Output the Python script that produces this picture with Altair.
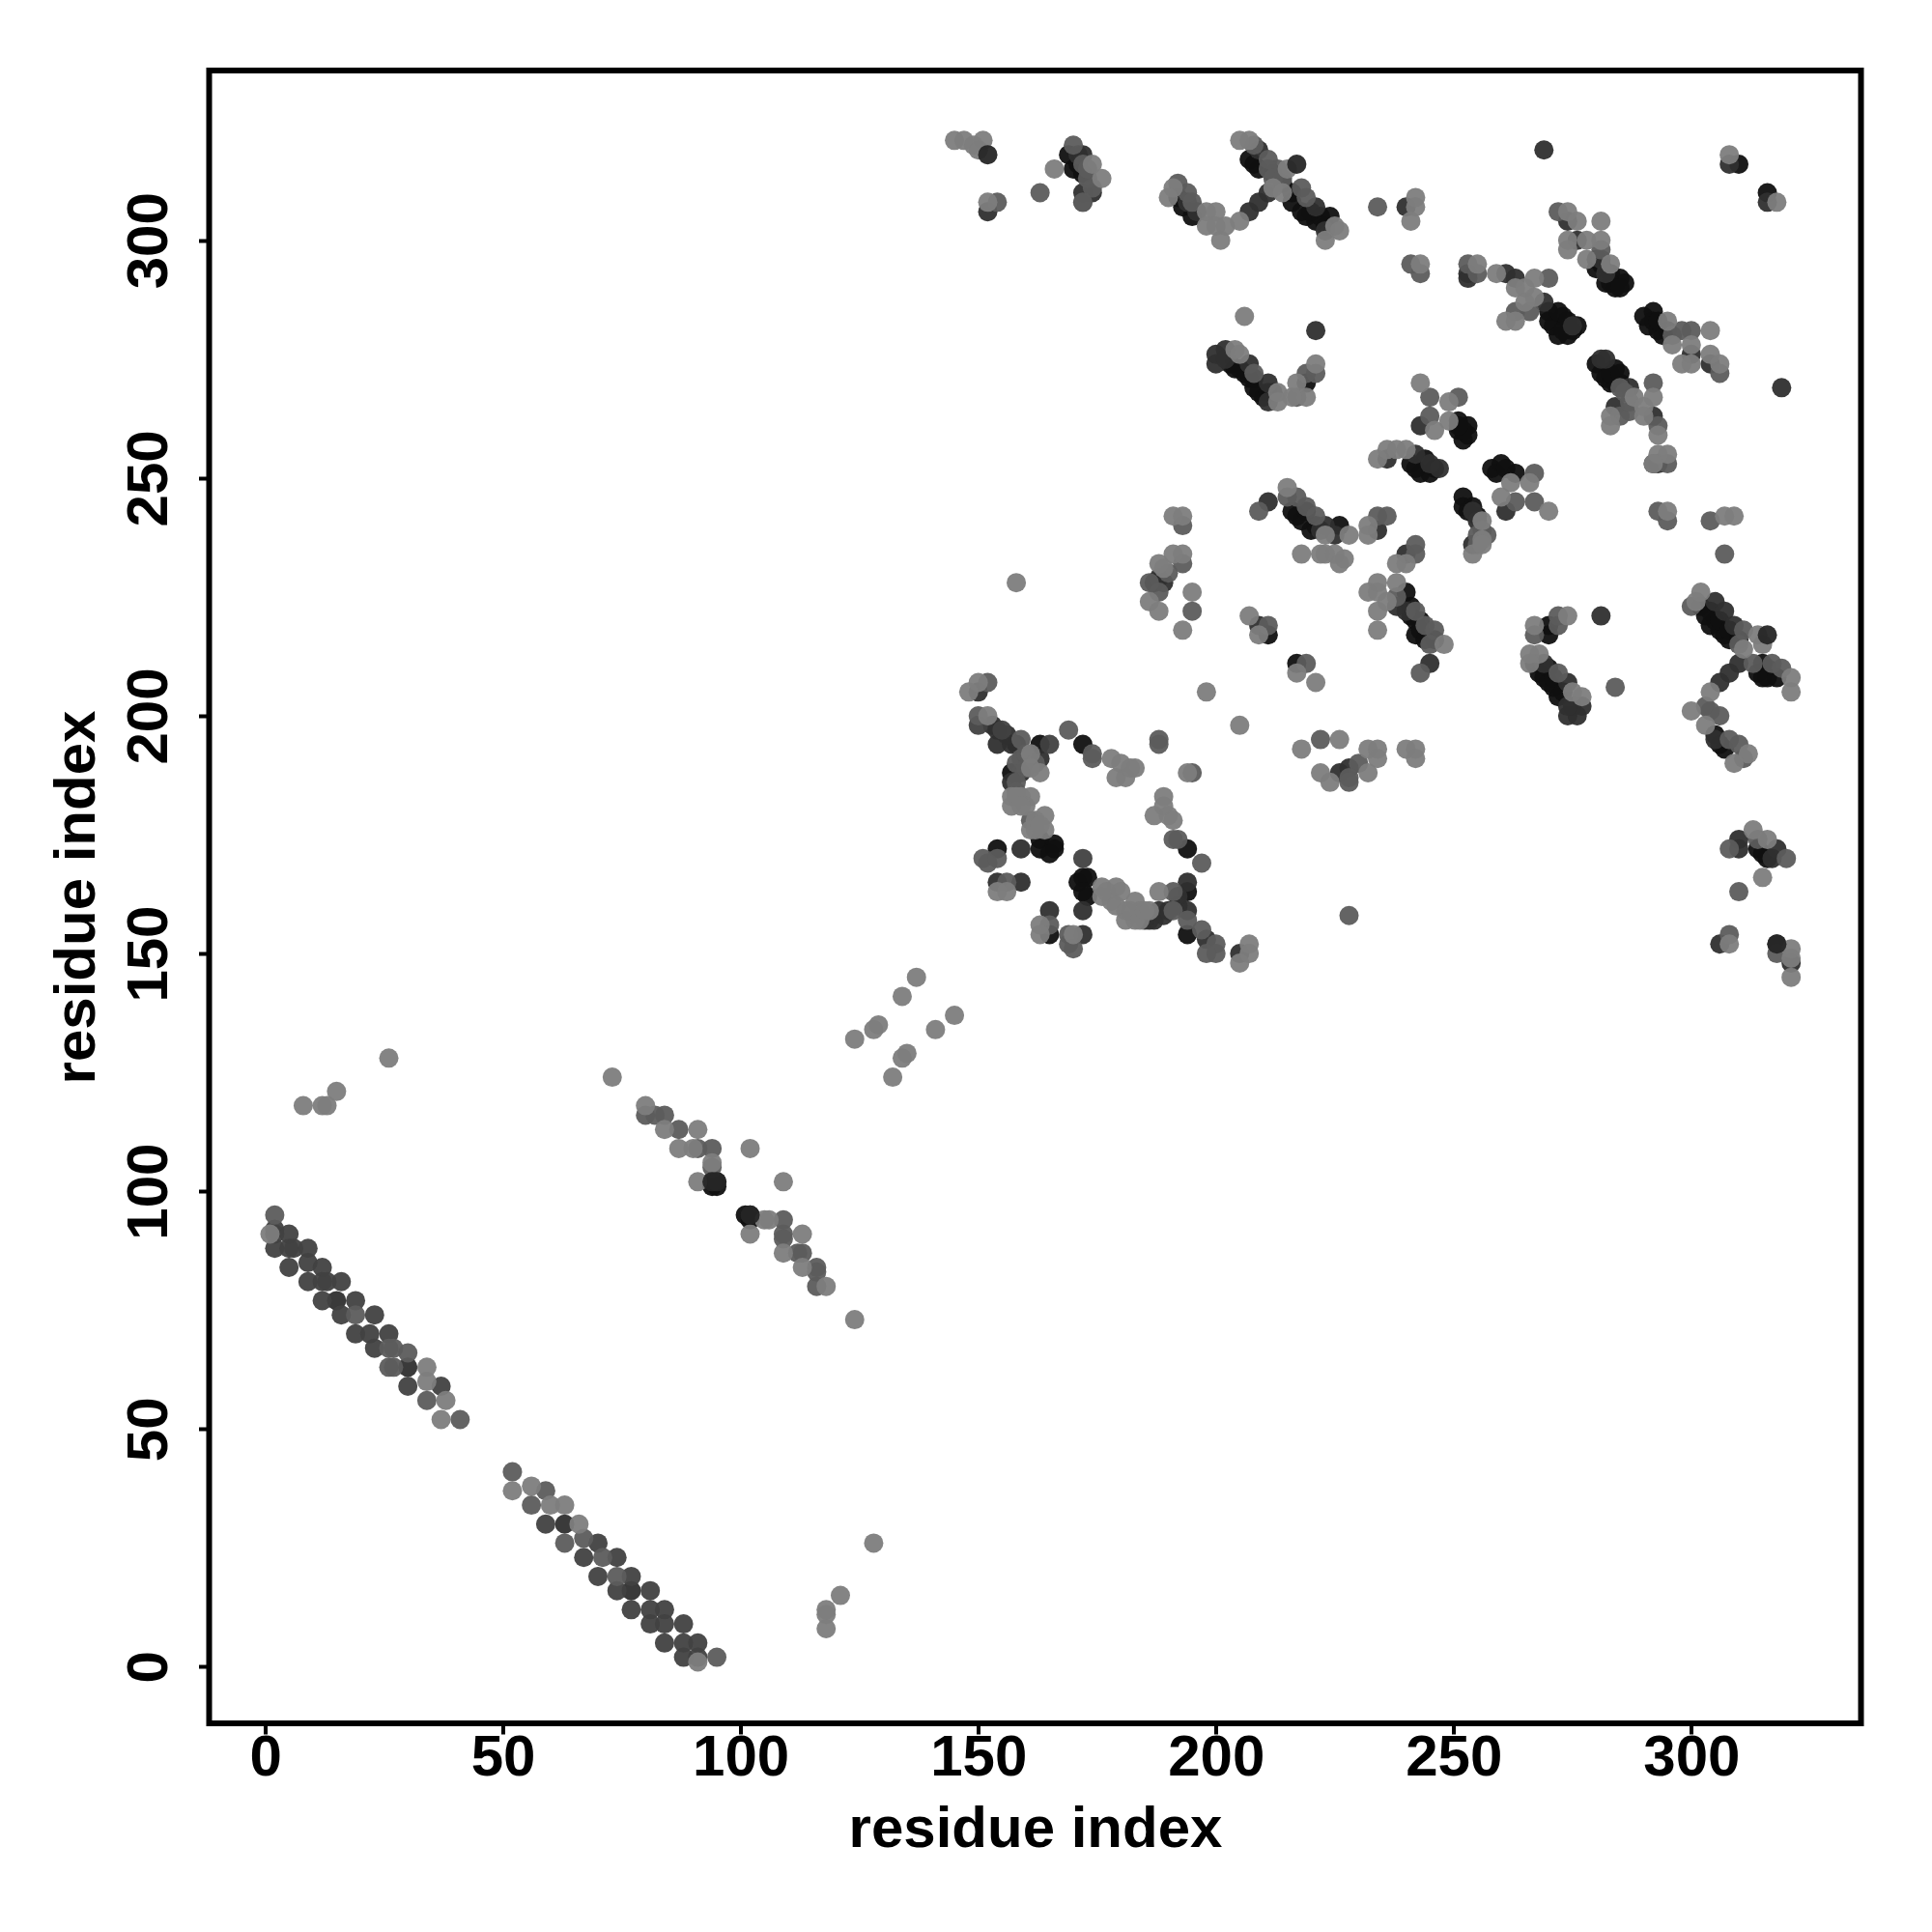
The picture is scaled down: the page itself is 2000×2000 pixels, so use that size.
import altair as alt
import pandas as pd

TICKS = [0, 50, 100, 150, 200, 250, 300]

VDARK = [(94,102),(95,102),(94,101),(95,101),(101,95),(102,95),(102,94),
(154,172),(163,174),(163,172),(166,173),(166,172),(165,171),(172,194),(163,194),(172,166),(171,165),(173,166),(172,163),(173,162),(194,163),(194,154),(194,172),(165,154),(158,194),(157,188),
(170,315),(169,318),(171,316),(172,314),(192,309),(193,307),(195,305),(208,316),(209,315),(207,317),(216,308),(218,306),(224,305),(221,304),(223,303),(219,305),
(204,273),(206,272),(208,269),(210,267),(207,271),(209,268),(219,270),(211,268),
(280,294),(282,291),(285,292),(284,290),(283,293),(286,291),(270,285),(273,284),(270,283),(272,280),(274,280),(271,282),(275,281),
(251,262),(253,261),(253,259),(252,258),(251,260),(252,260),(244,254),(241,253),(243,251),(246,252),(245,251),(242,252),
(258,252),(260,253),(263,251),(259,251),(261,252),(252,246),(252,244),(254,244),(253,243),(255,242),
(216,243),(218,241),(220,239),(217,242),(226,240),
(240,226),(242,220),(242,217),(241,221),(243,218),(244,216),
(211,217),(217,211),(267,211),(269,208),(271,206),(272,204),(268,209),(270,207),
(290,284),(292,285),(292,283),(291,282),(294,280),(293,281),(280,274),(281,272),(284,273),(283,270),(285,270),(282,271),(284,270),
(302,223),(303,221),(306,218),(308,216),(307,217),(305,220),(304,219),(315,208),(315,211),(316,210),(314,209),(316,208),
(307,193),(305,196),(306,194),(315,171),(314,172),(316,170),(270,219),(187,228),(251,261),(270,217),(310,316),(316,310),
(212,314),(214,312),(216,310),(220,306),(222,305),(203,274),(205,273),(208,271),(212,268),(283,272),(285,272),(272,285),(274,283),(276,282),(273,281),(293,283),(295,281),
(280,296),(281,295),(283,291),(285,290),(219,243),(221,240),(241,223),(243,220),(246,216),(304,222),(306,220),(308,218),(310,216),(318,208),(270,210),(271,208),(273,205)]

DARK = [(30,63),(15,77),(63,30),(77,16),(150,205),(153,198),(154,194),(163,191),(159,188),(157,186),(154,165),(159,172),(159,165),
(165,159),(172,154),(172,159),(186,157),(188,159),(187,157),(194,165),(194,159),(198,153),(205,150),
(152,306),(171,318),(172,310),(174,310),(207,306),(209,308),(211,310),(209,319),(221,307),(223,302),(200,276),(200,274),(202,277),(207,274),(211,270),(211,266),
(240,307),(253,293),(261,293),(263,292),(269,287),(275,282),(253,292),(274,304),(276,300),(281,296),(282,293),
(269,319),(308,316),(316,308),(282,275),(287,269),(319,269),(292,263),(300,276),(304,274),(284,265),(292,253),(293,253),
(221,281),(243,261),(236,254),(242,255),(261,243),(211,245),(223,240),(225,238),(234,239),(240,234),(254,236),(209,219),(245,211),(188,229),(189,228),
(281,221),(305,224),(307,222),(309,219),(269,211),(274,207),(275,202),(277,202),(274,200),(276,200),(305,195),
(310,211),(308,209),(306,207),(310,174),(310,172),(318,172),(317,170),(306,152),(318,152),(321,148),(240,222),(238,223),(228,189),(226,188),
(154,197),(156,196),(157,194),(185,157),(189,158),(190,159),(192,160),(192,162),(194,308),(196,306),(172,318),(202,275),(281,275),(222,239),(254,243),(255,241),(274,202),(245,253),(247,252)]

STRAND = [(2,92),(2,91),(5,91),(2,88),(5,88),(6,88),(9,88),(5,84),(9,85),(12,84),(9,81),(12,81),(13,81),(16,81),(12,77),(19,77),
(16,74),(23,74),(19,70),(22,70),(26,70),(23,67),(30,59),(37,59),(59,30),(70,26),(67,23),(74,23),(70,19),(77,19),(74,16),(81,16),
(77,12),(81,12),(84,12),(81,9),(84,9),(88,9),(84,5),(88,5),(91,5),(88,2),(91,2),(172,170),(150,198),(155,197),(165,194),(172,308)]

MED = [(2,95),(19,74),(26,67),(27,67),(26,63),(27,63),(30,66),(34,56),(41,52),(52,41),(59,37),(56,34),(63,26),(67,27),(71,23),(74,19),(95,2),
(80,116),(84,116),(82,116),(87,113),(91,109),(94,109),(94,105),(109,91),(109,90),(113,87),(112,87),(116,84),(116,83),(116,80),(109,94),
(152,207),(150,200),(159,195),(188,195),(188,194),(195,188),(169,197),(174,192),(174,191),(191,174),(192,174),(197,169),(197,155),(200,152),(200,150),(198,150),(191,163),(191,159),(194,157),
(151,170),(152,169),(154,170),(156,165),(165,156),(169,154),(169,152),(170,151),(161,178),(159,191),
(154,308),(163,310),(170,320),(173,313),(174,311),(172,308),(192,312),(194,310),(195,308),(208,320),(211,317),(213,315),(218,311),(219,309),
(208,272),(219,272),(221,272),(217,267),(234,307),(241,295),(243,293),(253,295),(255,293),(270,292),(266,285),(263,285),(272,306),(281,298),(296,280),(298,281),(300,281),(306,272),(292,270),(245,267),(251,267),(245,263),
(215,246),(217,246),(219,244),(221,242),(209,243),(234,242),(236,242),(242,236),(242,234),(267,251),(263,245),(267,245),(193,240),(193,232),(190,230),(186,228),(195,222),(188,226),(238,225),(242,222),(244,219),(246,218),(245,215),(211,219),(219,211),(243,209),(222,195),
(293,261),(287,264),(285,263),(295,253),(293,243),(295,241),(304,241),(307,234),(300,223),(311,218),(310,215),(267,217),(272,221),(272,219),(272,209),(284,206),
(313,211),(317,211),(319,210),(303,202),(304,201),(306,200),(308,195),(310,194),(311,191),(308,172),(314,174),(320,170),(318,150),(310,163),(308,154),(228,158),(230,190),(228,186),(228,187),
(158,186),(158,184),(158,190),(160,192),(162,190),(160,189),(211,315),(212,313),(214,313),(172,316),(173,315),(286,268),(285,269),(287,266),(256,239),(255,238),(257,238),(255,236)]

LIGHT = [(1,91),(34,63),(34,60),(38,56),(37,52),(52,37),(56,38),(60,34),(63,34),(66,30),(91,1),
(8,118),(12,118),(13,118),(15,121),(26,128),(118,8),(118,11),(118,12),(121,15),(128,26),
(73,124),(80,118),(84,113),(87,109),(90,109),(91,113),(94,106),(91,102),(102,109),(109,102),(102,91),(105,94),(106,94),(113,91),(109,87),(113,84),(118,80),(124,73),
(124,132),(128,134),(129,135),(134,141),(137,145),(141,134),(145,137),(132,124),(134,128),(135,129),(158,228),
(148,205),(150,207),(152,200),(161,192),(163,188),(161,189),(157,183),(157,181),(159,183),(161,183),(160,181),(164,179),(164,176),(162,176),(154,163),(156,163),(163,156),(163,154),(170,154),
(176,164),(179,164),(176,162),(178,161),(181,159),(183,161),(181,157),(184,159),(183,157),(188,163),(178,191),(180,190),(179,187),(181,187),(183,189),(182,189),
(194,188),(189,183),(187,179),(189,181),(190,179),(191,178),(198,205),(205,198),(205,148),(207,152),(207,150),(218,193),(226,195),(222,188),(224,186),(232,188),(232,193),(234,193),(234,191),(240,193),(242,193),(242,191),
(145,321),(147,321),(151,321),(150,319),(149,320),(152,308),(166,315),(174,316),(176,313),(191,311),(190,309),(198,306),(200,306),(198,303),(200,303),(202,303),(201,300),(205,304),
(205,321),(207,321),(215,315),(212,311),(214,310),(225,303),(226,302),(223,300),(206,284),(204,277),(205,276),(213,268),(213,266),(221,274),(217,270),(219,267),(216,267),
(242,309),(242,307),(241,304),(243,295),(255,295),(259,293),(267,292),(263,290),(265,290),(267,288),(265,287),(261,283),(263,283),(274,306),(276,304),(281,304),(274,300),(278,300),(281,300),(274,298),(278,296),(283,295),
(295,283),(304,281),(296,278),(300,278),(304,276),(306,274),(298,274),(300,274),(288,267),(292,267),(243,270),(249,266),(308,318),(318,308),(246,260),(249,262),
(234,254),(236,256),(238,256),(240,256),(262,249),(266,249),(260,246),(256,241),(256,237),(254,234),(256,236),(215,248),(223,238),(228,238),(222,234),(223,234),(218,234),(226,232),(227,233),(225,234),
(232,240),(232,238),(240,232),(238,232),(234,228),(232,226),(234,226),(234,222),(236,224),(238,228),(191,242),(193,242),(191,234),(193,234),(188,232),(189,231),(186,224),(188,222),(195,226),(193,218),(234,218),(248,215),
(207,221),(209,217),(217,209),(221,207),(270,243),(283,263),(283,261),(290,265),(290,263),(293,259),(293,255),(295,255),(292,253),(295,243),(307,242),(309,242),
(302,226),(301,224),(314,217),(315,215),(267,219),(274,221),(266,213),(268,213),(266,211),(275,205),(277,204),(311,214),(321,208),(321,205),(304,205),(300,201),(303,198),(312,192),(309,190),(313,176),(316,174),(315,166),(308,152),(321,151),(321,149),(321,145),
(177,163),(180,163),(182,159),(184,157),(185,159),(179,160),(186,159),(158,183),(159,181),(162,178),(161,176),(163,177)]

TOP = [(152,318),(217,316),(316,217),(318,152),(94,102),(95,102),(102,95)]

GROUPS = [(VDARK, "#101010"), (DARK, "#2f2f2f"), (STRAND, "#414141"),
          (MED, "#5c5c5c"), (LIGHT, "#7d7d7d"), (TOP, "#262626")]

rows = []
for pts, shade in GROUPS:
    for px, py in pts:
        rows.append({"x": px, "y": py, "shade": shade})
df = pd.DataFrame(rows)

FONT = "Liberation Sans"
common = dict(
    title="residue index", values=TICKS, grid=False, domain=False, ticks=True,
    tickColor="black", tickWidth=4, tickSize=11,
    labelFont=FONT, labelFontWeight="bold", labelFontSize=60, labelColor="black",
    titleFont=FONT, titleFontWeight="bold", titleFontSize=60, titleColor="black",
    labelOverlap=False, format="d",
)

chart = alt.Chart(df).mark_circle(size=400, opacity=0.95).encode(
    x=alt.X("x:Q", scale=alt.Scale(domain=[-11.8, 335.7], nice=False, zero=False),
            axis=alt.Axis(labelPadding=-5, titlePadding=15, **common)),
    y=alt.Y("y:Q", scale=alt.Scale(domain=[-11.9, 335.7], nice=False, zero=False),
            axis=alt.Axis(labelAngle=270, labelAlign="center", labelBaseline="bottom",
                          labelPadding=20, titlePadding=14, **common)),
    color=alt.Color("shade:N", scale=None),
    order=alt.Order("idx:Q"),
).transform_window(idx="row_number()").properties(
    width=1710, height=1711, background="white",
    autosize=alt.AutoSizeParams(type="none"),
    padding={"left": 208.5, "top": 65, "right": 60, "bottom": 200},
).configure_view(stroke="black", strokeWidth=6, fill="white")

chart.save("out.html", embed_options={"renderer": "svg", "actions": False})
